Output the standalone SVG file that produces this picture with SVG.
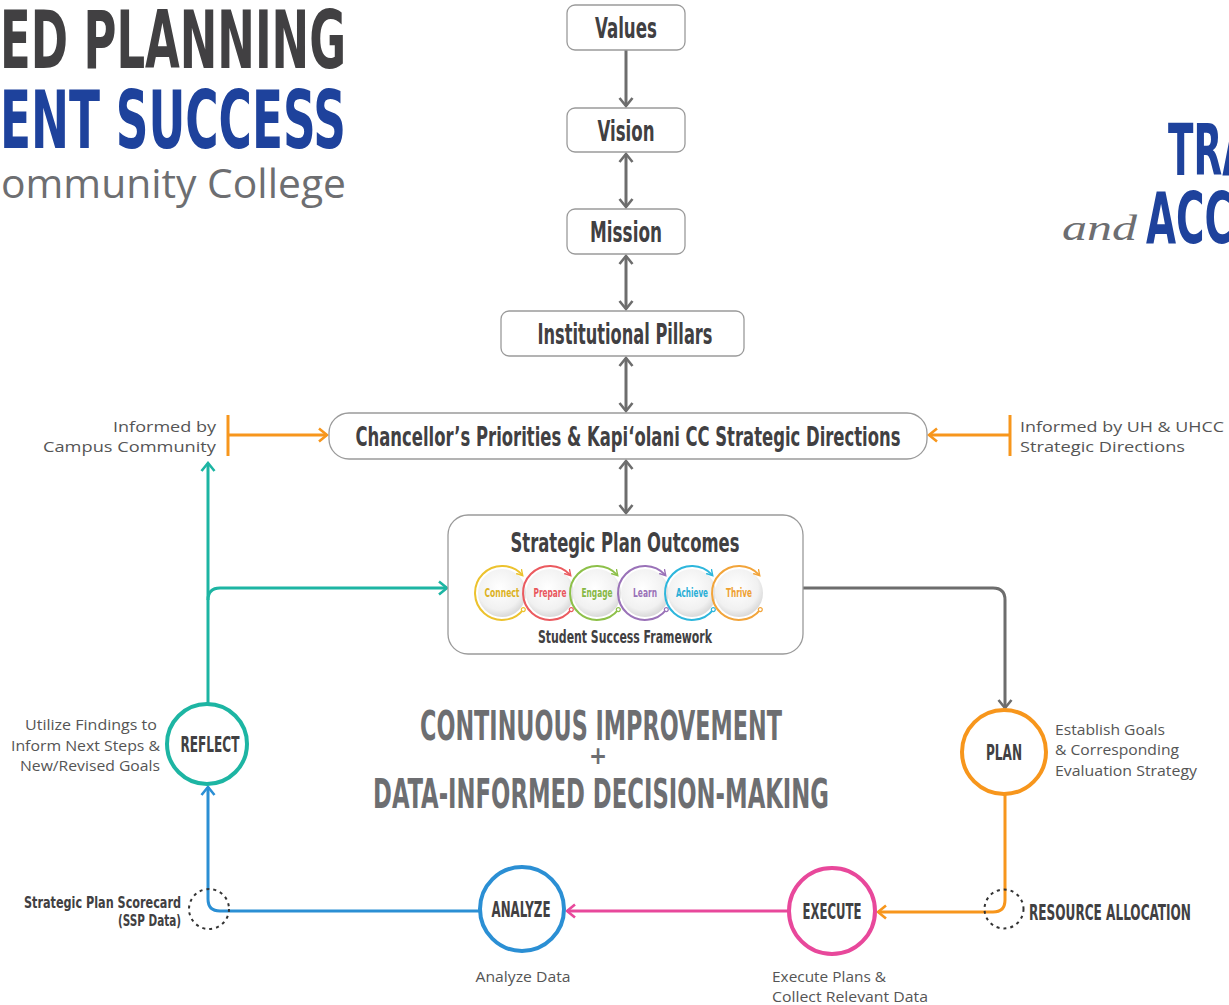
<svg xmlns="http://www.w3.org/2000/svg" width="1229" height="1005" viewBox="0 0 1229 1005">
<style>
.cd{font-family:'Liberation Sans Narrow','DejaVu Sans Condensed',Roboto,'Liberation Sans',sans-serif;font-weight:bold;font-stretch:condensed;}
.bx{fill:#fff;stroke:#9a9a9a;stroke-width:1.3;}
.nt{fill:#414042;text-anchor:middle;}
.body{font-family:'Open Sans','Noto Sans','Liberation Sans',sans-serif;font-size:15px;fill:#555;}
.gl{fill:none;stroke:#6d6d6d;stroke-width:3;}
.ol{fill:none;stroke:#f7961c;stroke-width:3;}
.tl{fill:none;stroke:#1db5a3;stroke-width:3;}
.bl{fill:none;stroke:#2b8fd4;stroke-width:3;}
.pl{fill:none;stroke:#e8489b;stroke-width:3;}
.cir{fill:#fff;stroke-width:4;}
.ct{fill:#414042;text-anchor:middle;font-size:21px;}
.dash{fill:none;stroke:#333;stroke-width:2;stroke-dasharray:3 4;}
.disk{fill:url(#dg);}
.arc{fill:none;stroke-width:2;}
.ot{font-size:12px;text-anchor:middle;}
</style>
<defs>
<radialGradient id="dg" cx="0.45" cy="0.4" r="0.6">
<stop offset="0" stop-color="#ffffff"/>
<stop offset="0.75" stop-color="#f1f1f1"/>
<stop offset="1" stop-color="#d9d9d9"/>
</radialGradient>
<marker id="ag" viewBox="0 0 12 16" markerWidth="12" markerHeight="16" refX="10" refY="8" orient="auto-start-reverse" markerUnits="userSpaceOnUse"><path d="M2,1.5 L10,8 L2,14.5" fill="none" stroke="#6d6d6d" stroke-width="2.6"/></marker>
<marker id="ao" viewBox="0 0 12 16" markerWidth="12" markerHeight="16" refX="10" refY="8" orient="auto-start-reverse" markerUnits="userSpaceOnUse"><path d="M2,1.5 L10,8 L2,14.5" fill="none" stroke="#f7961c" stroke-width="2.6"/></marker>
<marker id="at" viewBox="0 0 12 16" markerWidth="12" markerHeight="16" refX="10" refY="8" orient="auto-start-reverse" markerUnits="userSpaceOnUse"><path d="M2,1.5 L10,8 L2,14.5" fill="none" stroke="#1db5a3" stroke-width="2.6"/></marker>
<marker id="ab" viewBox="0 0 12 16" markerWidth="12" markerHeight="16" refX="10" refY="8" orient="auto-start-reverse" markerUnits="userSpaceOnUse"><path d="M2,1.5 L10,8 L2,14.5" fill="none" stroke="#2b8fd4" stroke-width="2.6"/></marker>
<marker id="ap" viewBox="0 0 12 16" markerWidth="12" markerHeight="16" refX="10" refY="8" orient="auto-start-reverse" markerUnits="userSpaceOnUse"><path d="M2,1.5 L10,8 L2,14.5" fill="none" stroke="#e8489b" stroke-width="2.6"/></marker>
<marker id="mh" viewBox="0 0 8 8" markerWidth="8" markerHeight="8" refX="5" refY="4" orient="auto" markerUnits="userSpaceOnUse"><path d="M0,0.5 L6,4 L0,7.5" fill="none" stroke="context-stroke" stroke-width="1.4"/></marker>
<marker id="mt" viewBox="0 0 6 6" markerWidth="6" markerHeight="6" refX="3" refY="3" markerUnits="userSpaceOnUse"><circle cx="3" cy="3" r="2" fill="#fff" stroke="context-stroke" stroke-width="1.2"/></marker>
</defs>
<rect width="1229" height="1005" fill="#fff"/>

<!-- titles -->
<g id="title-left">
<text class="cd" x="0" y="68" font-size="80" fill="#414042" textLength="346" lengthAdjust="spacingAndGlyphs">ED PLANNING</text>
<text class="cd" x="0" y="148" font-size="80" fill="#1e429c" textLength="346" lengthAdjust="spacingAndGlyphs">ENT SUCCESS</text>
<text x="1" y="198" font-family="'Open Sans','Noto Sans',sans-serif" font-size="41" fill="#6d6e71" textLength="345" lengthAdjust="spacingAndGlyphs">ommunity College</text>
</g>
<g id="title-right">
<text class="cd" x="1168" y="175" font-size="72" fill="#1e429c" textLength="83" lengthAdjust="spacingAndGlyphs">TRA</text>
<text x="1062" y="240" font-family="'Liberation Serif',serif" font-style="italic" font-size="36" fill="#6d6e71" textLength="75" lengthAdjust="spacingAndGlyphs">and</text>
<text class="cd" x="1146" y="243" font-size="72" fill="#1e429c" textLength="87" lengthAdjust="spacingAndGlyphs">ACC</text>
</g>

<!-- connectors -->
<g id="connectors">
<line class="gl" x1="626" y1="50" x2="626" y2="106" marker-end="url(#ag)"/>
<line class="gl" x1="626" y1="154" x2="626" y2="207" marker-start="url(#ag)" marker-end="url(#ag)"/>
<line class="gl" x1="626" y1="256" x2="626" y2="309" marker-start="url(#ag)" marker-end="url(#ag)"/>
<line class="gl" x1="626" y1="358" x2="626" y2="411" marker-start="url(#ag)" marker-end="url(#ag)"/>
<line class="gl" x1="626" y1="461" x2="626" y2="513" marker-start="url(#ag)" marker-end="url(#ag)"/>
<line class="ol" x1="228" y1="415" x2="228" y2="456"/>
<line class="ol" x1="228" y1="435" x2="327" y2="435" marker-end="url(#ao)"/>
<line class="ol" x1="1010" y1="415" x2="1010" y2="456"/>
<line class="ol" x1="1010" y1="435" x2="929" y2="435" marker-end="url(#ao)"/>
<line class="tl" x1="208" y1="704" x2="208" y2="463" marker-end="url(#at)"/>
<path class="tl" d="M208,600 Q208,588 220,588 L447,588" marker-end="url(#at)"/>
<path class="gl" d="M803,588 L993,588 Q1005,588 1005,600 L1005,708" marker-end="url(#ag)"/>
<path class="ol" d="M1005,795 L1005,900 Q1005,912 993,912 L878,912" marker-end="url(#ao)"/>
<line class="pl" x1="789" y1="911" x2="567" y2="911" marker-end="url(#ap)"/>
<path class="bl" d="M479,911 L220,911 Q208,911 208,899 L208,787" marker-end="url(#ab)"/>
<circle class="dash" cx="1004" cy="909" r="19.5"/>
<circle class="dash" cx="209" cy="909" r="20"/>
</g>

<!-- top nodes -->
<g id="values"><rect class="bx" x="567" y="5" width="118" height="45" rx="8"/><text class="cd nt" x="626" y="38" font-size="28" textLength="62" lengthAdjust="spacingAndGlyphs">Values</text></g>
<g id="vision"><rect class="bx" x="567" y="108" width="118" height="44" rx="8"/><text class="cd nt" x="626" y="141" font-size="28" textLength="57" lengthAdjust="spacingAndGlyphs">Vision</text></g>
<g id="mission"><rect class="bx" x="567" y="209" width="118" height="45" rx="8"/><text class="cd nt" x="626" y="242" font-size="28" textLength="72" lengthAdjust="spacingAndGlyphs">Mission</text></g>
<g id="pillars"><rect class="bx" x="501" y="311" width="243" height="45" rx="8"/><text class="cd nt" x="625" y="344" font-size="28" textLength="175" lengthAdjust="spacingAndGlyphs">Institutional Pillars</text></g>
<g id="chancellor"><rect class="bx" x="329" y="413" width="598" height="46" rx="20"/><text class="cd nt" x="628" y="446" font-size="27" textLength="545" lengthAdjust="spacingAndGlyphs">Chancellor’s Priorities &amp; Kapi‘olani CC Strategic Directions</text></g>

<!-- strategic plan outcomes -->
<g id="outcomes">
<rect class="bx" x="448" y="515" width="355" height="139" rx="20"/>
<text class="cd nt" x="625" y="552" font-size="27" textLength="229" lengthAdjust="spacingAndGlyphs">Strategic Plan Outcomes</text>
<g id="o-connect"><circle class="disk" cx="502" cy="593" r="24"/><path class="arc" stroke="#ecc22e" d="M523.3,609.6 A27,27 0 1 1 522.1,574.9" marker-end="url(#mh)" marker-start="url(#mt)"/><text class="cd ot" x="502" y="597" fill="#dcb21f" textLength="35" lengthAdjust="spacingAndGlyphs">Connect</text></g>
<g id="o-prepare"><circle class="disk" cx="550" cy="593" r="24"/><path class="arc" stroke="#eb5a5f" d="M571.3,609.6 A27,27 0 1 1 570.1,574.9" marker-end="url(#mh)" marker-start="url(#mt)"/><text class="cd ot" x="550" y="597" fill="#e9575c" textLength="33" lengthAdjust="spacingAndGlyphs">Prepare</text></g>
<g id="o-engage"><circle class="disk" cx="597" cy="593" r="24"/><path class="arc" stroke="#8dc049" d="M618.3,609.6 A27,27 0 1 1 617.1,574.9" marker-end="url(#mh)" marker-start="url(#mt)"/><text class="cd ot" x="597" y="597" fill="#86b843" textLength="31" lengthAdjust="spacingAndGlyphs">Engage</text></g>
<g id="o-learn"><circle class="disk" cx="645" cy="593" r="24"/><path class="arc" stroke="#9a72b8" d="M666.3,609.6 A27,27 0 1 1 665.1,574.9" marker-end="url(#mh)" marker-start="url(#mt)"/><text class="cd ot" x="645" y="597" fill="#9a72b8" textLength="24" lengthAdjust="spacingAndGlyphs">Learn</text></g>
<g id="o-achieve"><circle class="disk" cx="692" cy="593" r="24"/><path class="arc" stroke="#2db6dc" d="M713.3,609.6 A27,27 0 1 1 712.1,574.9" marker-end="url(#mh)" marker-start="url(#mt)"/><text class="cd ot" x="692" y="597" fill="#2aaed6" textLength="32" lengthAdjust="spacingAndGlyphs">Achieve</text></g>
<g id="o-thrive"><circle class="disk" cx="739" cy="593" r="24"/><path class="arc" stroke="#f2a43a" d="M760.3,609.6 A27,27 0 1 1 759.1,574.9" marker-end="url(#mh)" marker-start="url(#mt)"/><text class="cd ot" x="739" y="597" fill="#eea031" textLength="26" lengthAdjust="spacingAndGlyphs">Thrive</text></g>
<text class="cd nt" x="625" y="643" font-size="17" textLength="174" lengthAdjust="spacingAndGlyphs">Student Success Framework</text>
</g>

<!-- side labels -->
<g id="informed-campus"><text class="body" text-anchor="end"><tspan x="216" y="432" textLength="103" lengthAdjust="spacingAndGlyphs">Informed by</tspan><tspan x="216" y="452" textLength="173" lengthAdjust="spacingAndGlyphs">Campus Community</tspan></text></g>
<g id="informed-uh"><text class="body"><tspan x="1020" y="432" textLength="204" lengthAdjust="spacingAndGlyphs">Informed by UH &amp; UHCC</tspan><tspan x="1020" y="452" textLength="165" lengthAdjust="spacingAndGlyphs">Strategic Directions</tspan></text></g>

<!-- center statement -->
<g id="statement" fill="#6d6e71">
<text class="cd" x="601" y="740" font-size="41" text-anchor="middle" textLength="362" lengthAdjust="spacingAndGlyphs">CONTINUOUS IMPROVEMENT</text>
<text class="cd" x="598" y="764" font-size="24" text-anchor="middle">+</text>
<text class="cd" x="601" y="808" font-size="41" text-anchor="middle" textLength="456" lengthAdjust="spacingAndGlyphs">DATA-INFORMED DECISION-MAKING</text>
</g>

<!-- cycle nodes -->
<g id="reflect">
<circle class="cir" cx="207" cy="744" r="40" stroke="#1db5a3"/>
<text class="cd ct" x="210" y="752" textLength="59" lengthAdjust="spacingAndGlyphs">REFLECT</text>
<text class="body" text-anchor="end"><tspan x="157" y="730" textLength="132" lengthAdjust="spacingAndGlyphs">Utilize Findings to</tspan><tspan x="160" y="751" textLength="149" lengthAdjust="spacingAndGlyphs">Inform Next Steps &amp;</tspan><tspan x="160" y="771" textLength="140" lengthAdjust="spacingAndGlyphs">New/Revised Goals</tspan></text>
</g>
<g id="plan">
<circle class="cir" cx="1004" cy="752" r="42" stroke="#f7961c"/>
<text class="cd ct" x="1004" y="760" textLength="36" lengthAdjust="spacingAndGlyphs">PLAN</text>
<text class="body"><tspan x="1055" y="735" textLength="110" lengthAdjust="spacingAndGlyphs">Establish Goals</tspan><tspan x="1055" y="755" textLength="124" lengthAdjust="spacingAndGlyphs">&amp; Corresponding</tspan><tspan x="1055" y="776" textLength="142" lengthAdjust="spacingAndGlyphs">Evaluation Strategy</tspan></text>
</g>
<g id="execute">
<circle class="cir" cx="832" cy="911" r="43" stroke="#e8489b"/>
<text class="cd ct" x="832" y="919" textLength="59" lengthAdjust="spacingAndGlyphs">EXECUTE</text>
<text class="body"><tspan x="772" y="982" textLength="114" lengthAdjust="spacingAndGlyphs">Execute Plans &amp;</tspan><tspan x="772" y="1002" textLength="156" lengthAdjust="spacingAndGlyphs">Collect Relevant Data</tspan></text>
</g>
<g id="analyze">
<circle class="cir" cx="522" cy="909" r="42" stroke="#2b8fd4"/>
<text class="cd ct" x="521" y="917" textLength="59" lengthAdjust="spacingAndGlyphs">ANALYZE</text>
<text class="body" x="523" y="982" text-anchor="middle" textLength="95" lengthAdjust="spacingAndGlyphs">Analyze Data</text>
</g>
<g id="resource-allocation"><text class="cd" x="1029" y="920" font-size="21" fill="#414042" textLength="162" lengthAdjust="spacingAndGlyphs">RESOURCE ALLOCATION</text></g>
<g id="scorecard"><text class="cd" font-size="16" fill="#414042" text-anchor="end"><tspan x="181" y="908" textLength="157" lengthAdjust="spacingAndGlyphs">Strategic Plan Scorecard</tspan><tspan x="181" y="926" textLength="63" lengthAdjust="spacingAndGlyphs">(SSP Data)</tspan></text></g>
</svg>
